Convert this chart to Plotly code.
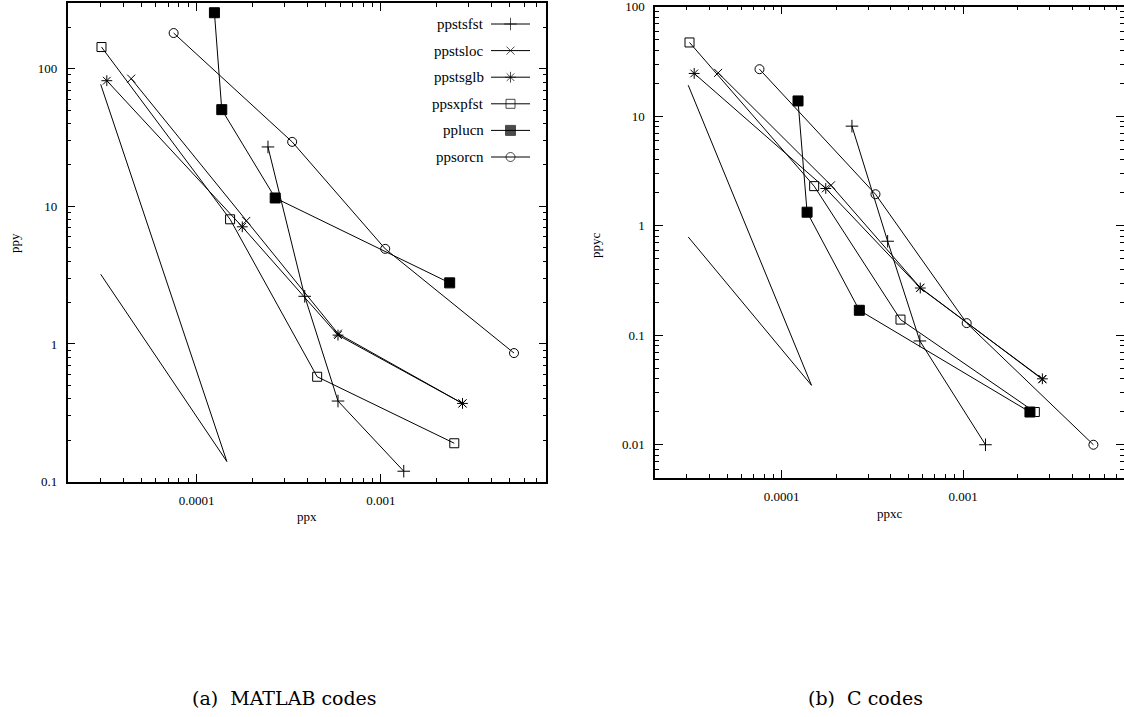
import math
import plotly.graph_objects as go

W, H = 1124, 717

series_names = ["ppstsfst", "ppstsloc", "ppstsglb", "ppsxpfst", "pplucn", "ppsorcn"]
series_symbols = ["cross-thin-open", "x-thin-open", "asterisk-open", "square-open", "square", "circle-open"]
series_sizes = [9, 8, 9, 9, 10, 9]

# ---- (a) MATLAB codes ----
ppx_ppstsfst = [2.44e-4, 3.86e-4, 5.85e-4, 1.33e-3]
ppy_ppstsfst = [27.0, 2.22, 0.385, 0.119]
ppx_ppstsloc = [4.42e-5, 1.86e-4, 5.85e-4, 2.77e-3]
ppy_ppstsloc = [84.6, 7.83, 1.19, 0.37]
ppx_ppstsglb = [3.26e-5, 1.77e-4, 5.85e-4, 2.77e-3]
ppy_ppstsglb = [81.8, 7.1, 1.16, 0.37]
ppx_ppsxpfst = [3.05e-5, 1.52e-4, 4.51e-4, 2.50e-3]
ppy_ppsxpfst = [143.6, 8.05, 0.578, 0.19]
ppx_pplucn = [1.25e-4, 1.37e-4, 2.67e-4, 2.36e-3]
ppy_pplucn = [255.0, 50.4, 11.5, 2.78]
ppx_ppsorcn = [7.51e-5, 3.30e-4, 1.055e-3, 5.27e-3]
ppy_ppsorcn = [181.5, 29.4, 4.91, 0.859]
ppx_ref = [3.02e-5, 1.46e-4, 3.02e-5]
ppy_ref = [76.9, 0.14, 3.21]

# ---- (b) C codes ----
ppxc_ppstsfst = [2.44e-4, 3.84e-4, 5.78e-4, 1.33e-3]
ppyc_ppstsfst = [8.12, 0.722, 0.0887, 0.01]
ppxc_ppstsloc = [4.46e-5, 1.87e-4, 5.81e-4, 2.74e-3]
ppyc_ppstsloc = [24.9, 2.34, 0.272, 0.0396]
ppxc_ppstsglb = [3.29e-5, 1.75e-4, 5.81e-4, 2.74e-3]
ppyc_ppstsglb = [24.6, 2.19, 0.27, 0.04]
ppxc_ppsxpfst = [3.10e-5, 1.51e-4, 4.52e-4, 2.49e-3]
ppyc_ppsxpfst = [47.2, 2.30, 0.139, 0.0199]
ppxc_pplucn = [1.23e-4, 1.38e-4, 2.68e-4, 2.34e-3]
ppyc_pplucn = [13.8, 1.33, 0.169, 0.0199]
ppxc_ppsorcn = [7.54e-5, 3.29e-4, 1.048e-3, 5.24e-3]
ppyc_ppsorcn = [26.9, 1.94, 0.129, 0.01]
ppxc_ref = [3.05e-5, 1.46e-4, 3.05e-5]
ppyc_ref = [19.2, 0.0349, 0.79]

x_tickvals = [1e-4, 1e-3]
x_ticktext = ["0.0001", "0.001"]
ya_tickvals = [0.1, 1, 10, 100]
ya_ticktext = ["0.1", "1", "10", "100"]
yb_tickvals = [0.01, 0.1, 1, 10, 100]
yb_ticktext = ["0.01", "0.1", "1", "10", "100"]

panel_a = [
    (ppx_ppstsfst, ppy_ppstsfst), (ppx_ppstsloc, ppy_ppstsloc), (ppx_ppstsglb, ppy_ppstsglb),
    (ppx_ppsxpfst, ppy_ppsxpfst), (ppx_pplucn, ppy_pplucn), (ppx_ppsorcn, ppy_ppsorcn),
]
panel_b = [
    (ppxc_ppstsfst, ppyc_ppstsfst), (ppxc_ppstsloc, ppyc_ppstsloc), (ppxc_ppstsglb, ppyc_ppstsglb),
    (ppxc_ppsxpfst, ppyc_ppsxpfst), (ppxc_pplucn, ppyc_pplucn), (ppxc_ppsorcn, ppyc_ppsorcn),
]

SERIF = "Liberation Serif"
CAPFONT = "DejaVu Serif"
BLACK = "#000000"

fig = go.Figure()


def marker_for(i):
    return dict(symbol=series_symbols[i], size=series_sizes[i], color=BLACK,
                line=dict(color=BLACK, width=1))


for xa, ya, panel, ref in (("x", "y", panel_a, (ppx_ref, ppy_ref)),
                           ("x2", "y2", panel_b, (ppxc_ref, ppyc_ref))):
    for i, (xs, ys) in enumerate(panel):
        fig.add_trace(go.Scatter(x=xs, y=ys, mode="lines+markers", xaxis=xa, yaxis=ya,
                                 line=dict(color=BLACK, width=1), marker=marker_for(i),
                                 showlegend=False, name=series_names[i]))
    fig.add_trace(go.Scatter(x=ref[0], y=ref[1], mode="lines", xaxis=xa, yaxis=ya,
                             line=dict(color=BLACK, width=1), showlegend=False))

# gnuplot-style key (text left of sample) drawn on a hidden helper axis
key_top, key_step = 24.0, 26.6
annotations = []
for i, nm in enumerate(series_names):
    row = key_top + i * key_step
    m = marker_for(i)
    m["size"] = [0, series_sizes[i], 0]
    fig.add_trace(go.Scatter(x=[0, 0.5, 1], y=[row] * 3, mode="lines+markers",
                             xaxis="x3", yaxis="y3", line=dict(color=BLACK, width=1),
                             marker=m, showlegend=False, hoverinfo="skip"))
    annotations.append(dict(text=nm, x=486 / W, y=1 - row / H, xref="paper", yref="paper",
                            xanchor="right", yanchor="middle", showarrow=False,
                            font=dict(family=SERIF, size=15, color=BLACK)))


def minor_vals(lo_exp, hi_exp, lo, hi):
    vals = []
    for e in range(lo_exp, hi_exp + 1):
        for d in range(2, 10):
            v = d * 10.0 ** e
            if lo <= v <= hi:
                vals.append(v)
    return vals


def log_axis(domain, rng, tickvals, ticktext, minor, standoff, anchor):
    return dict(type="log", domain=domain, range=rng, anchor=anchor, automargin=False,
                tickmode="array", tickvals=tickvals, ticktext=ticktext,
                ticks="inside", ticklen=8, tickwidth=1, tickcolor=BLACK,
                minor=dict(tickmode="array", tickvals=minor, ticks="inside", ticklen=4,
                           tickwidth=1, tickcolor=BLACK, showgrid=False),
                showline=True, linecolor=BLACK, linewidth=1.5, mirror="ticks",
                showgrid=False, zeroline=False, ticklabelstandoff=standoff,
                ticklabeloverflow="allow",
                tickfont=dict(family=SERIF, size=13, color=BLACK))


xr_a = [math.log10(2e-5), -2.103]
xr_b = [math.log10(2e-5), -2.112]
yr_a = [-1.0005, math.log10(300)]
yr_b = [math.log10(0.005), 2.0005]

fig.update_layout(
    width=W, height=H, margin=dict(l=0, r=0, t=0, b=0, pad=0, autoexpand=False),
    paper_bgcolor="white", plot_bgcolor="rgba(0,0,0,0)", showlegend=False,
    xaxis=log_axis([67.7 / W, 546.3 / W], xr_a, x_tickvals, x_ticktext,
                   minor_vals(-5, -3, 2e-5, 8e-3), 6, "y"),
    yaxis=log_axis([1 - 481.7 / H, 1 - 3 / H], yr_a, ya_tickvals, ya_ticktext,
                   minor_vals(-1, 2, 0.1, 300), 6, "x"),
    xaxis2=log_axis([655 / W, 1.0], xr_b, x_tickvals, x_ticktext,
                    minor_vals(-5, -3, 2e-5, 8e-3), 6, "y2"),
    yaxis2=log_axis([1 - 477.7 / H, 1 - 6.7 / H], yr_b, yb_tickvals, yb_ticktext,
                    minor_vals(-3, 1, 0.005, 100), 6, "x2"),
    xaxis3=dict(domain=[491 / W, 530 / W], range=[0, 1], visible=False, anchor="y3",
                fixedrange=True, automargin=False),
    yaxis3=dict(domain=[1 - 170 / H, 1 - 10 / H], range=[170, 10], visible=False,
                anchor="x3", fixedrange=True, automargin=False),
)

text_font = dict(family=SERIF, size=13, color=BLACK)
annotations += [
    dict(text="ppx", x=306.9 / W, y=1 - 516.7 / H, xref="paper", yref="paper",
         xanchor="center", yanchor="middle", showarrow=False, font=text_font),
    dict(text="ppy", x=15 / W, y=1 - 243 / H, xref="paper", yref="paper", textangle=-90,
         xanchor="center", yanchor="middle", showarrow=False, font=text_font),
    dict(text="ppxc", x=890 / W, y=1 - 513 / H, xref="paper", yref="paper",
         xanchor="center", yanchor="middle", showarrow=False, font=text_font),
    dict(text="ppyc", x=595 / W, y=1 - 245 / H, xref="paper", yref="paper", textangle=-90,
         xanchor="center", yanchor="middle", showarrow=False, font=text_font),
    dict(text="(a)  MATLAB codes", x=284.5 / W, y=1 - 698 / H, xref="paper", yref="paper",
         xanchor="center", yanchor="middle", showarrow=False,
         font=dict(family=CAPFONT, size=19, color=BLACK)),
    dict(text="(b)  C codes", x=865 / W, y=1 - 698 / H, xref="paper", yref="paper",
         xanchor="center", yanchor="middle", showarrow=False,
         font=dict(family=CAPFONT, size=19, color=BLACK)),
]
fig.update_layout(annotations=annotations)

fig.write_html("out.html")
